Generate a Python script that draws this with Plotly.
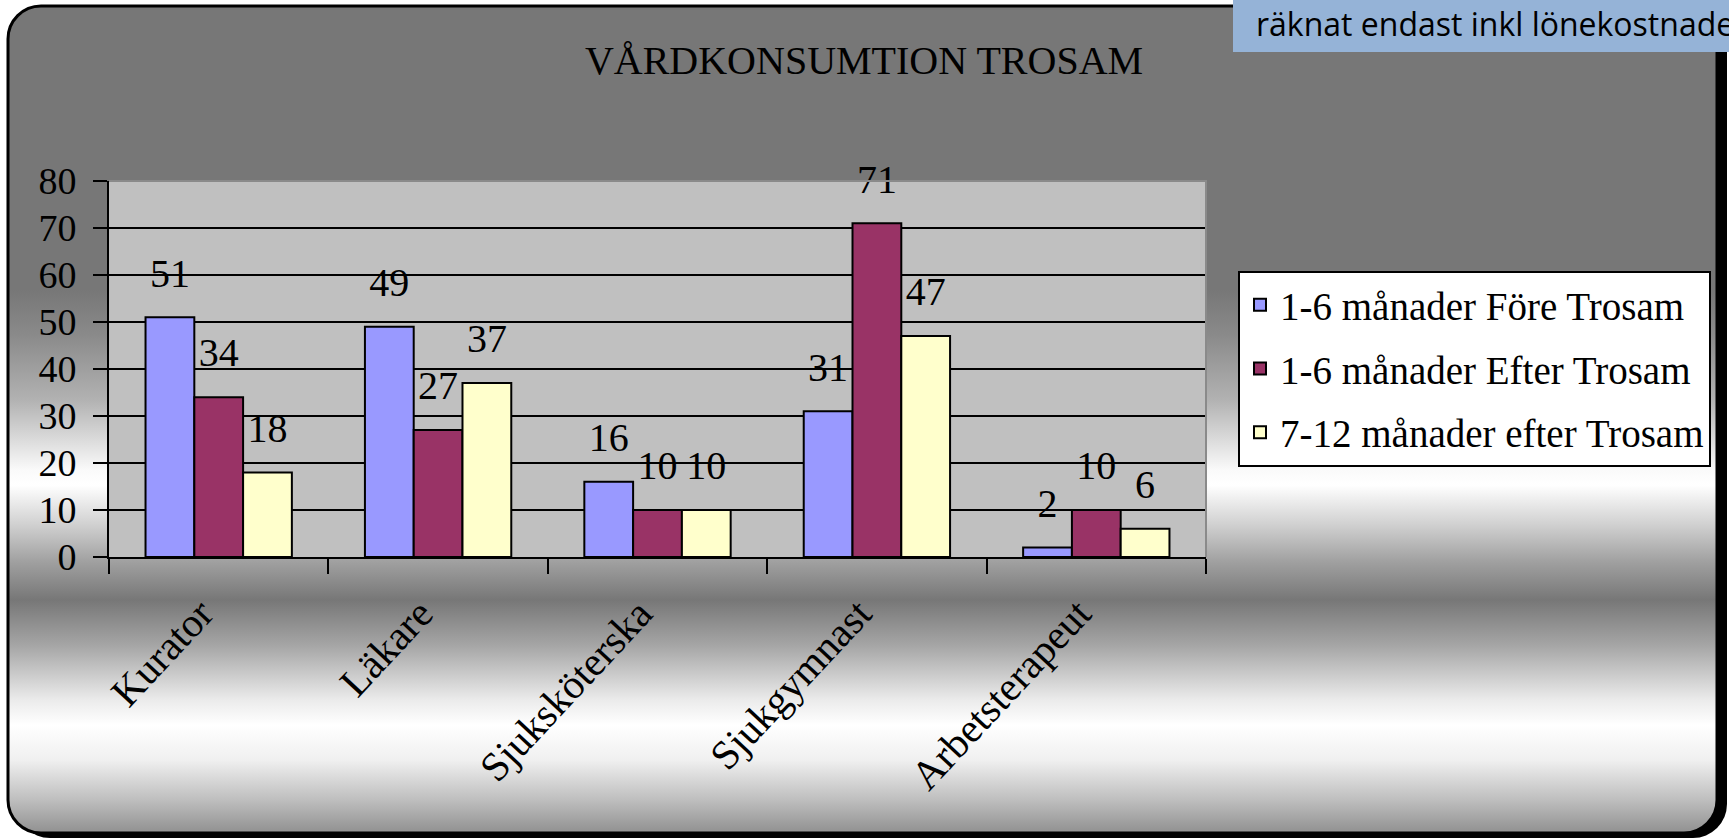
import base64
import plotly.graph_objects as go

# ---------------- data ----------------
categories = ["Kurator", "Läkare", "Sjuksköterska", "Sjukgymnast", "Arbetsterapeut"]
series_names = ["1-6 månader Före Trosam", "1-6 månader Efter Trosam", "7-12 månader efter Trosam"]
fore_1_6 = [51, 49, 16, 31, 2]
efter_1_6 = [34, 27, 10, 71, 10]
efter_7_12 = [18, 37, 10, 47, 6]
y_ticks = [0, 10, 20, 30, 40, 50, 60, 70, 80]
title_text = "VÅRDKONSUMTION TROSAM"
note_text = "räknat endast inkl lönekostnader"

# ---------------- style ----------------
W, H = 1729, 839
L, R, T, B = 109, 1206, 181, 557  # plot area in pixels
SERIF = "Liberation Serif, Times New Roman, serif"
colors = ["#9999FF", "#993366", "#FFFFCC"]
LABEL_GAP = 4.0  # axis units between bar top and its value label


def px_x(p):
    return (p - L) / (R - L)


def px_y(p):
    return (B - p) / (B - T)


# background: rounded frame with reflected grey gradient and drop shadow
stops = [(0, 119), (290, 119), (335, 138), (400, 178), (470, 250), (485, 255),
         (525, 208), (562, 160), (600, 119), (645, 165), (700, 235), (725, 255),
         (760, 240), (800, 190), (836, 140)]
stop_svg = "".join(
    f'<stop offset="{y / H:.4f}" stop-color="rgb({c},{c},{c})"/>' for y, c in stops
)
svg = (
    f'<svg xmlns="http://www.w3.org/2000/svg" width="{W}" height="{H}" viewBox="0 0 {W} {H}">'
    f'<defs><linearGradient id="g" x1="0" y1="0" x2="0" y2="{H}" gradientUnits="userSpaceOnUse">'
    f'{stop_svg}</linearGradient></defs>'
    f'<rect x="16" y="12" width="1711" height="826" rx="34" ry="34" fill="black"/>'
    f'<rect x="8" y="6" width="1709" height="827" rx="33" ry="33" fill="url(#g)" '
    f'stroke="black" stroke-width="3"/>'
    f'</svg>'
)
bg_uri = "data:image/svg+xml;base64," + base64.b64encode(svg.encode("utf-8")).decode()

fig = go.Figure()

all_series = [fore_1_6, efter_1_6, efter_7_12]
for i, (name, vals) in enumerate(zip(series_names, all_series)):
    fig.add_trace(go.Bar(
        x=categories, y=vals, name=name,
        offsetgroup=str(i), legendgroup=str(i),
        marker=dict(color=colors[i], line=dict(color="black", width=2)),
        hoverinfo="x+y+name",
    ))
# value labels, floated above each bar
for i, vals in enumerate(all_series):
    fig.add_trace(go.Bar(
        x=categories, y=[LABEL_GAP] * len(vals), base=vals,
        offsetgroup=str(i), showlegend=False, hoverinfo="skip",
        marker=dict(color="rgba(0,0,0,0)", line=dict(width=0)),
        text=[str(v) for v in vals], textposition="outside",
        textfont=dict(family=SERIF, size=40, color="black"),
        constraintext="none", cliponaxis=False,
    ))

fig.update_layout(
    width=W, height=H,
    margin=dict(l=L, r=W - R, t=T, b=H - B, autoexpand=False),
    paper_bgcolor="white",
    plot_bgcolor="rgba(0,0,0,0)",
    barmode="group", bargap=0.333, bargroupgap=0,
    font=dict(family=SERIF, color="black"),
    title=dict(text=title_text, font=dict(family=SERIF, size=40, color="black"),
               xref="container", yref="container", x=864 / W, y=1 - 60 / H,
               xanchor="center", yanchor="middle"),
    showlegend=True,
    legend=dict(x=px_x(1238), y=px_y(271), xanchor="left", yanchor="top",
                bgcolor="white", bordercolor="black", borderwidth=2,
                font=dict(family=SERIF, size=39, color="black"),
                tracegroupgap=10, traceorder="grouped"),
    xaxis=dict(type="category", showline=True, linecolor="black", linewidth=2,
               ticks="outside", tickson="boundaries", ticklen=15, tickwidth=2,
               tickcolor="black", tickangle=-47, showgrid=False,
               tickfont=dict(family=SERIF, size=41, color="black"),
               ticklabelstandoff=14, ticklabelshift=-18),
    yaxis=dict(range=[0, 80], tickvals=y_ticks, showline=True, linecolor="black",
               linewidth=2, ticks="outside", ticklen=14, tickwidth=2, tickcolor="black",
               showgrid=True, gridcolor="black", gridwidth=2, zeroline=False,
               tickfont=dict(family=SERIF, size=38, color="black"),
               ticklabelstandoff=9),
    images=[dict(source=bg_uri, xref="paper", yref="paper",
                 x=px_x(0), y=px_y(0), sizex=W / (R - L), sizey=H / (B - T),
                 xanchor="left", yanchor="top", sizing="stretch", layer="below")],
    shapes=[
        dict(type="rect", xref="paper", yref="paper", x0=0, x1=1, y0=0, y1=1,
             fillcolor="#C0C0C0", line=dict(width=0), layer="below"),
        dict(type="path", xref="paper", yref="paper",
             path="M 0 1 L 1 1 L 1 0", line=dict(color="#8a8a8a", width=2), layer="above"),
        dict(type="rect", xref="paper", yref="paper",
             x0=px_x(1233), x1=px_x(W + 20), y0=px_y(52), y1=px_y(-5),
             fillcolor="#95B3D7", line=dict(width=0), layer="above"),
    ],
    annotations=[
        dict(text=note_text, xref="paper", yref="paper", x=px_x(1254), y=px_y(23),
             xanchor="left", yanchor="middle", showarrow=False,
             font=dict(family="Open Sans, sans-serif", size=32, color="black")),
    ],
)

fig.write_html("out.html", config={"displayModeBar": False},
               post_script="document.body.style.margin='0';document.body.style.overflow='hidden';")
